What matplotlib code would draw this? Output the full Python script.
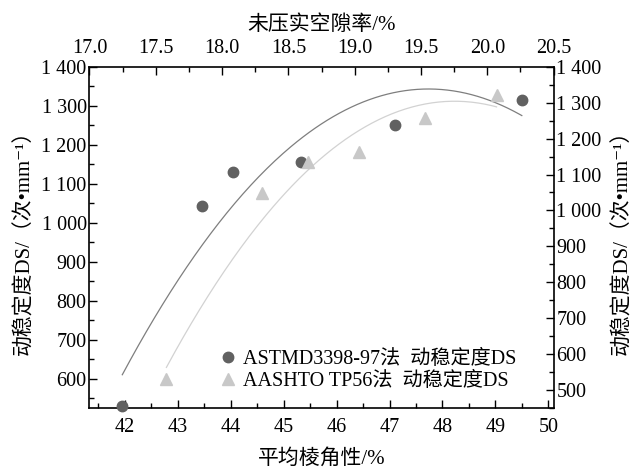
import numpy as np
import matplotlib
matplotlib.use("Agg")
import matplotlib.pyplot as plt

plt.rcParams['font.family'] = ['Liberation Serif', 'Noto Sans CJK SC', 'DejaVu Serif']

# ASTM D3398-97: angularity (bottom axis) vs DS (left axis)
astm_x = [41.95, 43.46, 44.05, 45.32, 47.10, 49.50]
astm_ds = [530, 1042, 1129, 1157, 1250, 1315]
# AASHTO TP56: uncompacted voids (top axis) vs DS (right axis)
aashto_x = [17.58, 18.30, 18.65, 19.03, 19.53, 20.07]
aashto_ds = [530, 1048, 1135, 1164, 1256, 1322]

left_ticks = [600, 700, 800, 900, 1000, 1100, 1200, 1300, 1400]
left_labels = ["600", "700", "800", "900", "1 000", "1 100", "1 200", "1 300", "1 400"]
right_ticks = [500, 600, 700, 800, 900, 1000, 1100, 1200, 1300, 1400]
right_labels = ["500", "600", "700", "800", "900", "1 000", "1 100", "1 200", "1 300", "1 400"]
bottom_ticks = [42, 43, 44, 45, 46, 47, 48, 49, 50]
top_ticks = [17.0, 17.5, 18.0, 18.5, 19.0, 19.5, 20.0, 20.5]

dark = '#616161'
light = '#c8c8c8'

fig = plt.figure(figsize=(6.37, 4.68), dpi=100)
pos = [0.1405, 0.128, 0.7285, 0.7295]
ax = fig.add_axes(pos)
ax2 = fig.add_axes(pos, frameon=False)

# quadratic fits
c1 = np.polyfit(astm_x, astm_ds, 2)
xx1 = np.linspace(min(astm_x), max(astm_x), 200)
ax.plot(xx1, np.polyval(c1, xx1), color='#7e7e7e', lw=0.9)
h1, = ax.plot(astm_x, astm_ds, 'o', color=dark, ms=7.5, clip_on=False, zorder=5)

c2 = np.polyfit(aashto_x, aashto_ds, 2)
xx2 = np.linspace(min(aashto_x), max(aashto_x), 200)
ax2.plot(xx2, np.polyval(c2, xx2), color='#d2d2d2', lw=0.9)
h2, = ax2.plot(aashto_x, aashto_ds, '^', color=light, ms=8, clip_on=False, zorder=5)

ax.set_xlim(41.33, 50.1)
ax.set_ylim(525, 1400)
ax2.set_xlim(17.0, 20.5)
ax2.set_ylim(450, 1400)

ax.set_xticks(bottom_ticks)
ax.set_xticks(np.arange(41.5, 50.1, 0.5), minor=True)
ax.set_yticks(left_ticks)
ax.set_yticklabels(left_labels)
ax.set_yticks(np.arange(550, 1401, 50), minor=True)

ax2.xaxis.tick_top()
ax2.yaxis.tick_right()
ax2.xaxis.set_label_position('top')
ax2.yaxis.set_label_position('right')
ax2.set_xticks(top_ticks)
ax2.set_xticklabels([f"{t:.1f}" for t in top_ticks])
ax2.set_xticks(np.arange(17.0, 20.51, 0.25), minor=True)
ax2.set_yticks(right_ticks)
ax2.set_yticklabels(right_labels)
ax2.set_yticks(np.arange(450, 1401, 50), minor=True)

for a in (ax, ax2):
    a.tick_params(which='major', direction='in', length=6, width=1.0, labelsize=14.5, pad=2)
    a.tick_params(which='minor', direction='in', length=3.5, width=1.0)
ax.tick_params(axis='x', which='major', pad=7)
ax2.tick_params(axis='x', which='major', pad=6)
ax.tick_params(top=False, right=False)
ax2.tick_params(bottom=False, left=False)
for s in ax.spines.values():
    s.set_linewidth(1.2)

ylab = '动稳定度DS/（次•mm⁻¹）'
ax.set_xlabel('平均棱角性/%', fontsize=15, labelpad=9)
ax.set_ylabel(ylab, fontsize=15, labelpad=5)
ax2.set_xlabel('未压实空隙率/%', fontsize=15, labelpad=7)
ax2.set_ylabel(ylab, fontsize=15, labelpad=8, rotation=90)

leg = ax2.legend([h1, h2], ['ASTMD3398-97法  动稳定度DS', 'AASHTO TP56法  动稳定度DS'],
                 loc='lower left', bbox_to_anchor=(0.25, 0.015), frameon=False,
                 fontsize=14.5, handlelength=1.0, handletextpad=0.25, labelspacing=0.15,
                 borderaxespad=0.2)

fig.savefig('out.png', dpi=100)
